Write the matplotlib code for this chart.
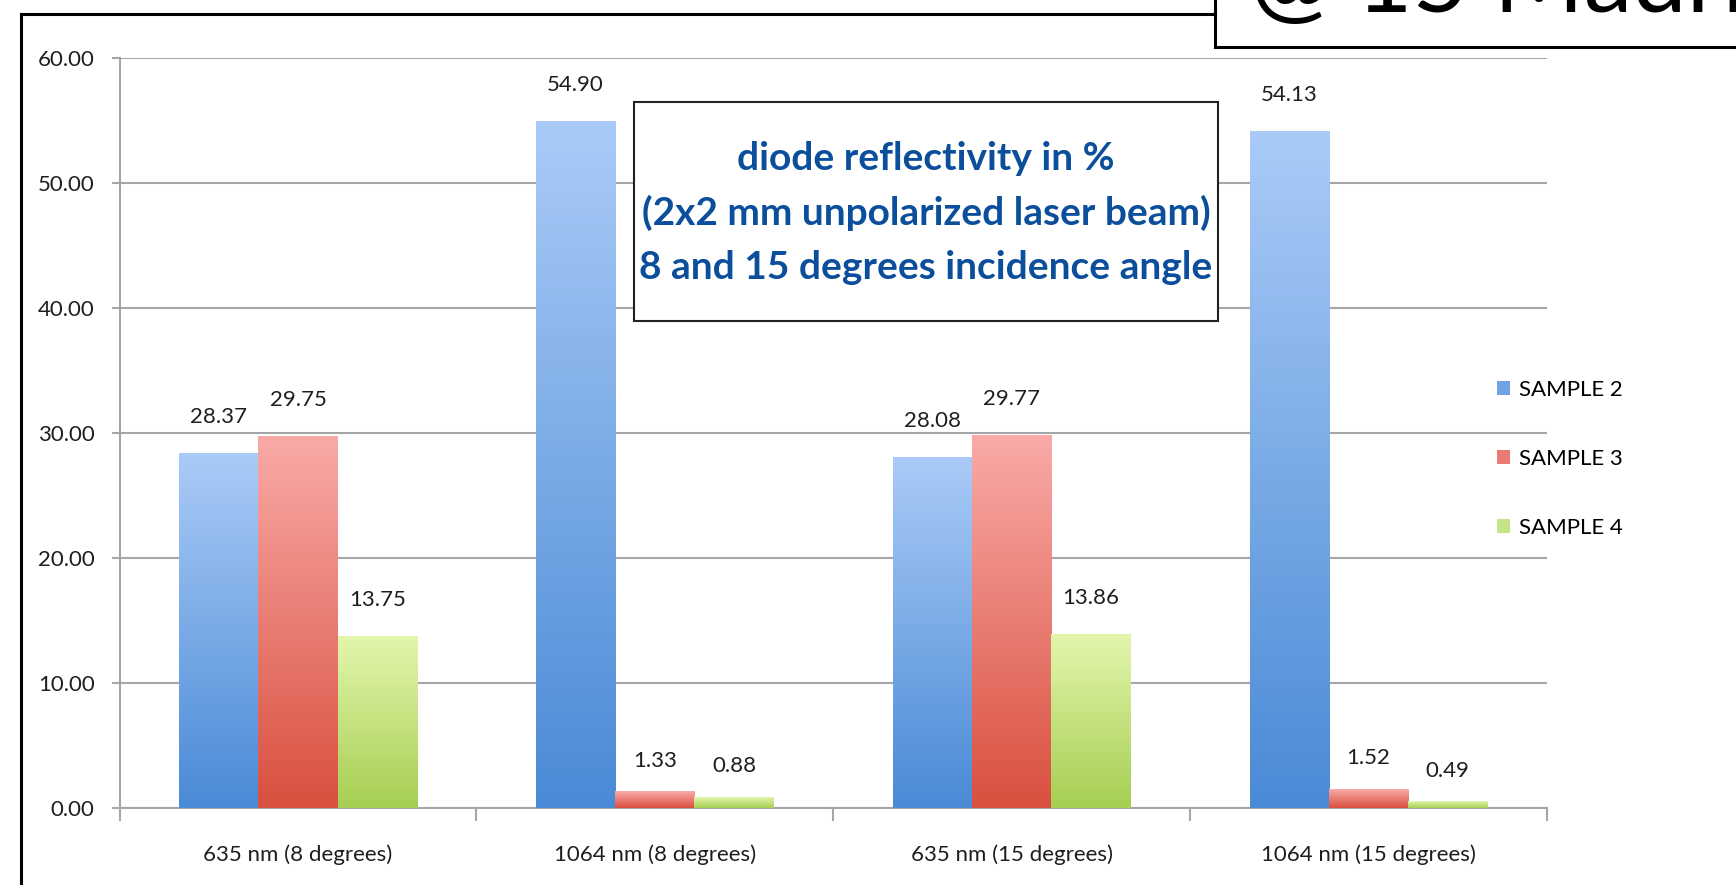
import numpy as np
import matplotlib
matplotlib.use('Agg')
import matplotlib.pyplot as plt
from matplotlib.patches import Patch, Rectangle
from matplotlib.lines import Line2D
from matplotlib.colors import LinearSegmentedColormap

plt.rcParams['font.family'] = ['Lato', 'DejaVu Sans']

# data
categories = ['635 nm (8 degrees)', '1064 nm (8 degrees)',
              '635 nm (15 degrees)', '1064 nm (15 degrees)']
series_names = ['SAMPLE 2', 'SAMPLE 3', 'SAMPLE 4']
sample2 = [28.37, 54.90, 28.08, 54.13]
sample3 = [29.75, 1.33, 29.77, 1.52]
sample4 = [13.75, 0.88, 13.86, 0.49]
yticks = [0, 10, 20, 30, 40, 50, 60]

# (bottom colour, top colour) for the excel style gradient
grad_cols = [('#4a8ad6', '#aacbf7'),
             ('#d9503f', '#f9aaa7'),
             ('#a6ce52', '#e3f6ad')]
legend_cols = ['#6fa3e4', '#e97b72', '#c5e387']

W, H = 1736, 885
fig = plt.figure(figsize=(W / 100, H / 100), dpi=100)
ax = fig.add_axes([119.6 / W, 1 - 808 / H, (1547 - 119.6) / W, (808 - 58) / H])

x = np.arange(len(categories))
bw = 0.222
grad = np.linspace(0, 1, 256).reshape(-1, 1)

for i, vals in enumerate([sample2, sample3, sample4]):
    cmap = LinearSegmentedColormap.from_list('g%d' % i, grad_cols[i])
    pos = x + (i - 1) * bw
    bars = ax.bar(pos, vals, width=bw, color='none', edgecolor='none', zorder=3)
    for b, v in zip(bars, vals):
        x0 = b.get_x()
        ax.imshow(grad, extent=[x0, x0 + bw, 0, v], origin='lower', cmap=cmap,
                  aspect='auto', zorder=3, interpolation='bilinear')
        # excel puts the labels of the tiny bars a little lower
        off = 19 if v > 5 else 15
        ax.annotate('%.2f' % v, (x0 + bw / 2, v), xytext=(0, off),
                    textcoords='offset points', ha='center', va='bottom',
                    fontsize=16, color='#1e1e1e')

ax.set_xlim(-0.5, len(categories) - 0.5)
ax.set_ylim(0, 60)
ax.set_yticks(yticks)
ax.set_yticklabels(['%.2f' % t for t in yticks])
ax.set_xticks(x)
ax.set_xticklabels(categories)
ax.set_xticks(np.arange(len(categories) + 1) - 0.5, minor=True)
ax.tick_params(axis='x', which='major', length=0, pad=26, labelsize=16, labelcolor='#1e1e1e')
ax.tick_params(axis='x', which='minor', length=9, width=1.5, color='#a6a6a6')
ax.tick_params(axis='y', length=6, width=1.5, color='#a6a6a6', pad=12,
               labelsize=16, labelcolor='#1e1e1e')
ax.grid(axis='y', color='#a6a6a6', linewidth=1.5, zorder=0)
ax.set_axisbelow(True)
for s in ['top', 'right']:
    ax.spines[s].set_visible(False)
for s in ['left', 'bottom']:
    ax.spines[s].set_color('#a6a6a6')
    ax.spines[s].set_linewidth(1.5)

# legend
handles = [Patch(facecolor=c, edgecolor='none') for c in legend_cols]
fig.legend(handles, series_names, loc='center left',
           bbox_to_anchor=(1486 / W, 1 - 459 / H), frameon=False,
           fontsize=16, handlelength=0.6, handleheight=0.6,
           handletextpad=0.4, labelspacing=2.2, borderpad=0)

# title box inside the plot
fig.add_artist(Rectangle((634 / W, 1 - 321 / H), (1218 - 634) / W, (321 - 102) / H,
                         transform=fig.transFigure, facecolor='white',
                         edgecolor='#222222', linewidth=1.5, zorder=5))
fig.text(926 / W, 1 - 213 / H, 'diode reflectivity in %\n(2x2 mm unpolarized laser beam)\n'
         '8 and 15 degrees incidence angle',
         ha='center', va='center', fontsize=28, fontweight='bold', color='#0b4e9b',
         linespacing=1.65, zorder=6)

# slide frame and the cut off box at the top right
fig.add_artist(Line2D([21 / W, 21 / W], [0, 1 - 14 / H], color='black', lw=2.2))
fig.add_artist(Line2D([21 / W, 1215 / W], [1 - 14 / H, 1 - 14 / H], color='black', lw=2.2))
fig.add_artist(Line2D([1215 / W, 1215 / W], [1 - 47 / H, 1], color='black', lw=2.2))
fig.add_artist(Line2D([1215 / W, 1], [1 - 47 / H, 1 - 47 / H], color='black', lw=2.2))
fig.text(1250 / W, 1 - 12 / H, '@ 15 Madrid', fontsize=70, color='black',
         ha='left', va='baseline')

fig.savefig('out.png', dpi=100)
